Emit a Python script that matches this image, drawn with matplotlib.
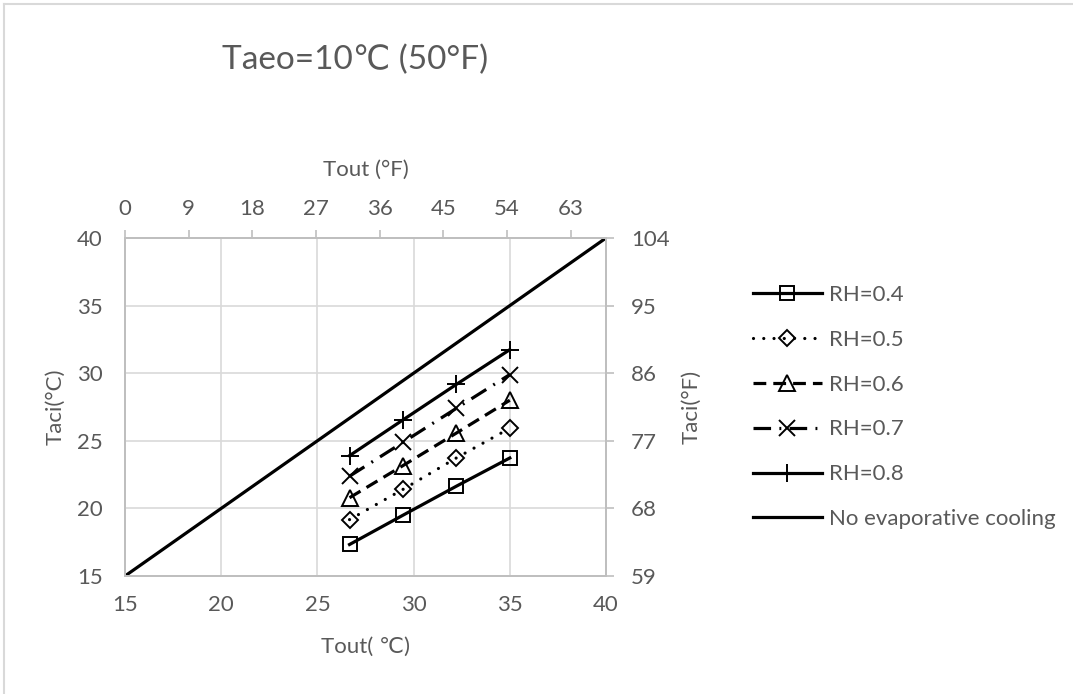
import matplotlib.pyplot as plt
from matplotlib.lines import Line2D

plt.rcParams['font.family'] = ['Lato', 'DejaVu Sans']

# outdoor temperature (°C) for 80, 85, 90, 95 °F
tout = [26.67, 29.44, 32.22, 35.0]

taci_rh04 = [17.33, 19.49, 21.64, 23.73]
taci_rh05 = [19.17, 21.40, 23.73, 25.93]
taci_rh06 = [20.79, 23.16, 25.57, 28.00]
taci_rh07 = [22.38, 24.88, 27.40, 29.90]
taci_rh08 = [23.90, 26.54, 29.17, 31.74]

# reference line: no evaporative cooling, Taci = Tout
ref_x = [15, 40]
ref_y = [15, 40]

c_ticks = [15, 20, 25, 30, 35, 40]
f_top_ticks = [0, 9, 18, 27, 36, 45, 54, 63]
f_right_ticks = [59, 68, 77, 86, 95, 104]

grey_txt = '#595959'
grid_c = '#d9d9d9'
axis_c = '#bfbfbf'
fs = 16

fig = plt.figure(figsize=(10.73, 6.94), dpi=100)
ax = fig.add_axes([125/1073, 1 - 576/694, 481/1073, 338/694])

lw = 2.3
ms_kw = dict(fillstyle='none', markeredgecolor='black', markeredgewidth=1.4)
ax.plot(tout, taci_rh04, color='black', lw=lw, marker='s', ms=10.5, label='RH=0.4', **ms_kw)
ax.plot(tout, taci_rh05, color='black', lw=lw, ls=(0, (0.01, 3.2)), dash_capstyle='round',
        marker='D', ms=8, label='RH=0.5', **ms_kw)
ax.plot(tout, taci_rh06, color='black', lw=lw, ls=(0, (4, 2.2)), marker='^', ms=11,
        label='RH=0.6', **ms_kw)
ax.plot(tout, taci_rh07, color='black', lw=lw, ls=(0, (5.5, 2.6, 0.6, 2.6)), marker='x',
        ms=11, label='RH=0.7', **ms_kw)
ax.plot(tout, taci_rh08, color='black', lw=lw, marker='+', ms=13, label='RH=0.8', **ms_kw)
ax.plot(ref_x, ref_y, color='black', lw=lw, label='No evaporative cooling')

ax.set_xlim(15, 40)
ax.set_ylim(15, 40)
ax.set_xticks(c_ticks)
ax.set_yticks(c_ticks)
ax.grid(True, color=grid_c, lw=1.2)
ax.set_axisbelow(True)
ax.tick_params(axis='both', length=0, labelsize=fs, labelcolor=grey_txt)
ax.tick_params(axis='x', pad=14)
ax.tick_params(axis='y', pad=16)
for sp in ax.spines.values():
    sp.set_color(axis_c)
    sp.set_linewidth(1.2)

ax.set_xlabel('Tout( \u2103)', fontsize=fs, color=grey_txt, va='center')
ax.xaxis.set_label_coords(0.5, (576 - 647) / 338)
ax.set_ylabel('Taci(°C)', fontsize=fs, color=grey_txt, va='center')
ax.yaxis.set_label_coords((55 - 125) / 481, 0.5)

# Fahrenheit axes
axr = ax.twinx()
axr.set_ylim(59, 104)
axr.set_yticks(f_right_ticks)
axr.tick_params(axis='y', length=6, width=1.2, color=axis_c, labelsize=fs,
                labelcolor=grey_txt, pad=12)
axr.set_ylabel('Taci(°F)', fontsize=fs, color=grey_txt, va='center')
axr.yaxis.set_label_coords((691 - 125) / 481, 0.5)

axt = ax.twiny()
axt.set_xlim(0, 68)
axt.set_xticks(f_top_ticks)
axt.tick_params(axis='x', length=6, width=1.2, color=axis_c, labelsize=fs,
                labelcolor=grey_txt, pad=8)
axt.set_xlabel('Tout (°F)', fontsize=fs, color=grey_txt, va='center')
axt.xaxis.set_label_coords(0.5, (576 - 170) / 338)
for a in (axr, axt):
    for sp in a.spines.values():
        sp.set_color(axis_c)
        sp.set_linewidth(1.2)

fig.text(355/1073, 1 - 60/694, 'Taeo=10\u2103 (50°F)', fontsize=24, color=grey_txt,
         ha='center', va='center')

handles, labels = ax.get_legend_handles_labels()
fig.legend(handles, labels, loc='center left', bbox_to_anchor=(753/1073, 1 - 407/694),
           frameon=False, fontsize=fs, labelcolor=grey_txt, handlelength=3.1,
           handletextpad=0.3, labelspacing=1.12, borderpad=0, borderaxespad=0)

# chart area border (top and left edges)
fig.add_artist(Line2D([4/1073, 1], [1 - 4/694, 1 - 4/694], color=grid_c, lw=1.5,
                      transform=fig.transFigure))
fig.add_artist(Line2D([4/1073, 4/1073], [0, 1 - 4/694], color=grid_c, lw=1.5,
                      transform=fig.transFigure))

fig.savefig('out.png', dpi=100)
